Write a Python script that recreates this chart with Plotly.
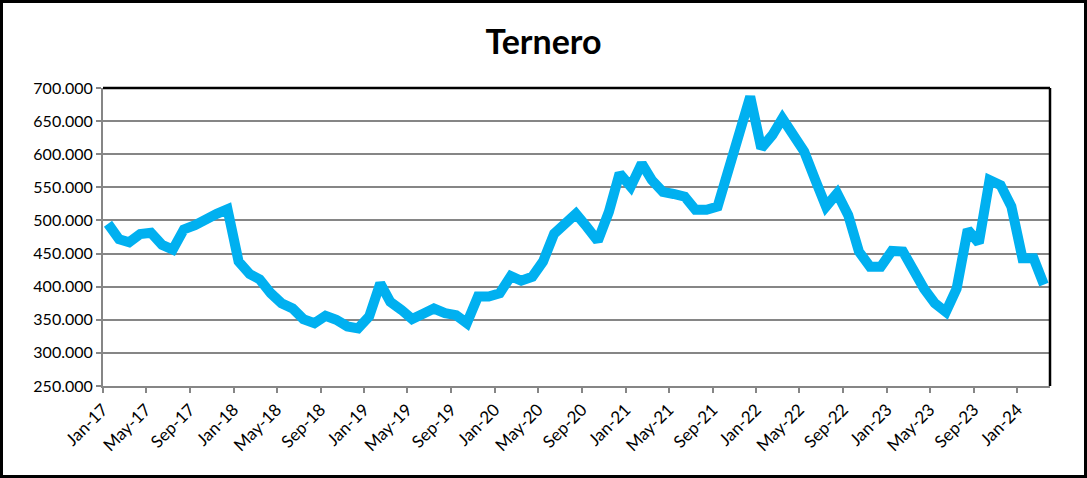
import plotly.graph_objects as go
import pandas as pd

# Monthly prices (mid-month points), Jan-2017 .. Mar-2024
start_month = "2017-01-15"
values = [
    495000, 471500, 467000, 479500, 481500, 463000, 456000, 486500, 493000, 503000, 510000, 517000,
    438000, 419000, 411000, 390000, 375000, 367000, 351000, 345000, 356000, 350000, 340000, 337000,
    355000, 405000, 377000, 365000, 351000, 359000, 367000, 360000, 357000, 345000, 385000, 385000,
    390000, 416000, 409000, 415000, 438000, 480000, 493000, 510000, 490000, 469000, 513000, 571000,
    551000, 586000, 561000, 543000, 540000, 536000, 516000, 516000, 521000, 576000, 631000, 687000,
    609000, 629000, 654000, 631000, 604000, 561000, 521000, 541000, 508000, 453000, 430000, 430000,
    454000, 453000, 425000, 397000, 375000, 362000, 397000, 486000, 466000, 561000, 553000, 521000,
    443000, 443000, 403000,
]
dates = pd.date_range("2017-01-01", periods=len(values), freq="MS") + pd.Timedelta(days=14)

y_ticks = [250000, 300000, 350000, 400000, 450000, 500000, 550000, 600000, 650000, 700000]
title_text = "Ternero"

W, H = 1087, 478
L, R, T, B = 103, 37, 88, 92
pw, ph = W - L - R, H - T - B

fig = go.Figure()
fig.add_trace(go.Scatter(
    x=dates, y=values, mode="lines",
    line=dict(color="#00B0F0", width=10),
    hoverinfo="x+y",
))

font_family = "Lato, Liberation Sans, sans-serif"

fig.update_layout(
    width=W, height=H,
    margin=dict(l=L, r=R, t=T, b=B),
    paper_bgcolor="white", plot_bgcolor="white",
    separators=",.",
    showlegend=False,
    title=dict(text="<b>" + title_text + "</b>", x=0.5, xanchor="center",
               y=1 - 42 / H, yanchor="middle",
               font=dict(family=font_family, size=34, color="black")),
    xaxis=dict(
        type="date",
        range=["2017-01-01", "2024-04-01"],
        tick0="2017-01-01", dtick="M4", tickformat="%b-%y",
        tickangle=-45,
        ticks="outside", ticklen=5, tickcolor="#868686", tickwidth=2,
        showline=True, linecolor="#868686", linewidth=2,
        showgrid=False, zeroline=False,
        tickfont=dict(family=font_family, size=17, color="black"),
    ),
    yaxis=dict(
        range=[250000, 700000],
        tickvals=y_ticks, tickformat=",d",
        ticks="outside", ticklen=5, tickcolor="#868686", tickwidth=2,
        showline=True, linecolor="#868686", linewidth=2,
        showgrid=True, gridcolor="#868686", gridwidth=2,
        zeroline=False,
        tickfont=dict(family=font_family, size=16, color="black"),
    ),
)

# plot area top and right borders (black)
fig.add_shape(type="line", xref="paper", yref="paper", x0=0, x1=1, y0=1, y1=1,
              line=dict(color="black", width=2.5))
fig.add_shape(type="line", xref="paper", yref="paper", x0=1, x1=1, y0=0, y1=1,
              line=dict(color="black", width=2.5))

# outer chart border
fig.add_shape(type="rect", xref="paper", yref="paper",
              x0=(1.5 - L) / pw, x1=(W - 1.5 - L) / pw,
              y0=(T + ph - (H - 1.5)) / ph, y1=(T + ph - 1.5) / ph,
              line=dict(color="black", width=3), fillcolor="rgba(0,0,0,0)")

fig.write_html("out.html", config={"displayModeBar": False},
               post_script="document.body.style.margin='0';document.body.style.overflow='hidden';")
